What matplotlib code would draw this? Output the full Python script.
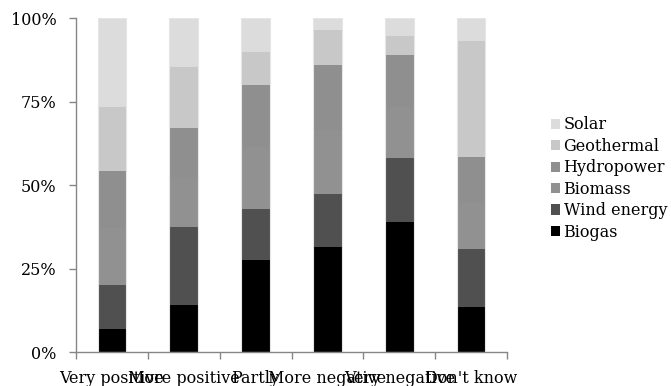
import matplotlib.pyplot as plt
import numpy as np

# Attitude categories and share of each energy source (%)
categories = ["Very positive", "More positive", "Partly", "More negative", "Very negative", "Don't know"]
biogas = [6.9, 14.0, 27.7, 31.5, 38.9, 13.6]
wind_energy = [13.1, 23.5, 15.2, 15.8, 19.2, 17.3]
biomass = [17.1, 14.8, 18.5, 19.3, 15.4, 13.7]
hydropower = [17.1, 14.7, 18.6, 19.3, 15.4, 13.7]
geothermal = [19.2, 18.3, 10.0, 10.5, 5.7, 34.8]
solar = [26.6, 14.7, 10.0, 3.6, 5.4, 6.9]

series = [
    ("Biogas", biogas, "#000000"),
    ("Wind energy", wind_energy, "#505050"),
    ("Biomass", biomass, "#919191"),
    ("Hydropower", hydropower, "#8f8f8f"),
    ("Geothermal", geothermal, "#c8c8c8"),
    ("Solar", solar, "#dcdcdc"),
]

plt.rcParams['font.family'] = ['DejaVu Serif']

fig = plt.figure(figsize=(6.71, 3.86), dpi=100)
ax = fig.add_axes([0.1133, 0.088, 0.6423, 0.865])

x = np.arange(len(categories))
bottom = np.zeros(len(categories))
handles = []
for name, vals, color in series:
    vals = np.array(vals)
    b = ax.bar(x, vals, 0.4, bottom=bottom, color=color, label=name, linewidth=0)
    bottom += vals
    handles.append(b)

# faint outline round each full column
ax.bar(x, bottom, 0.4, fill=False, edgecolor="#e6e6e6", linewidth=0.8)

ax.set_xlim(-0.5, len(categories) - 0.5)
ax.set_ylim(0, 100)
ax.set_yticks([0, 25, 50, 75, 100])
ax.set_yticklabels(["0%", "25%", "50%", "75%", "100%"], fontsize=11.5)
ax.set_xticks(x)
ax.set_xticklabels(categories, fontsize=11.5)
ax.set_xticks(np.arange(-0.5, len(categories)), minor=True)
ax.tick_params(axis="x", which="major", length=0, pad=13)
ax.tick_params(axis="x", which="minor", length=5, color="#868686", width=1)
ax.tick_params(axis="y", length=5, color="#868686", width=1, pad=9)

for side in ["top", "right"]:
    ax.spines[side].set_visible(False)
for side in ["left", "bottom"]:
    ax.spines[side].set_color("#868686")
    ax.spines[side].set_linewidth(1)

ax.legend(handles[::-1], [s[0] for s in series][::-1], loc="center left",
          bbox_to_anchor=(0.809, 0.5376), bbox_transform=fig.transFigure,
          frameon=False, fontsize=11.5, handlelength=0.6, handleheight=0.6,
          handletextpad=0.2, labelspacing=0.28, borderpad=0)

fig.savefig("out.png", dpi=100)
